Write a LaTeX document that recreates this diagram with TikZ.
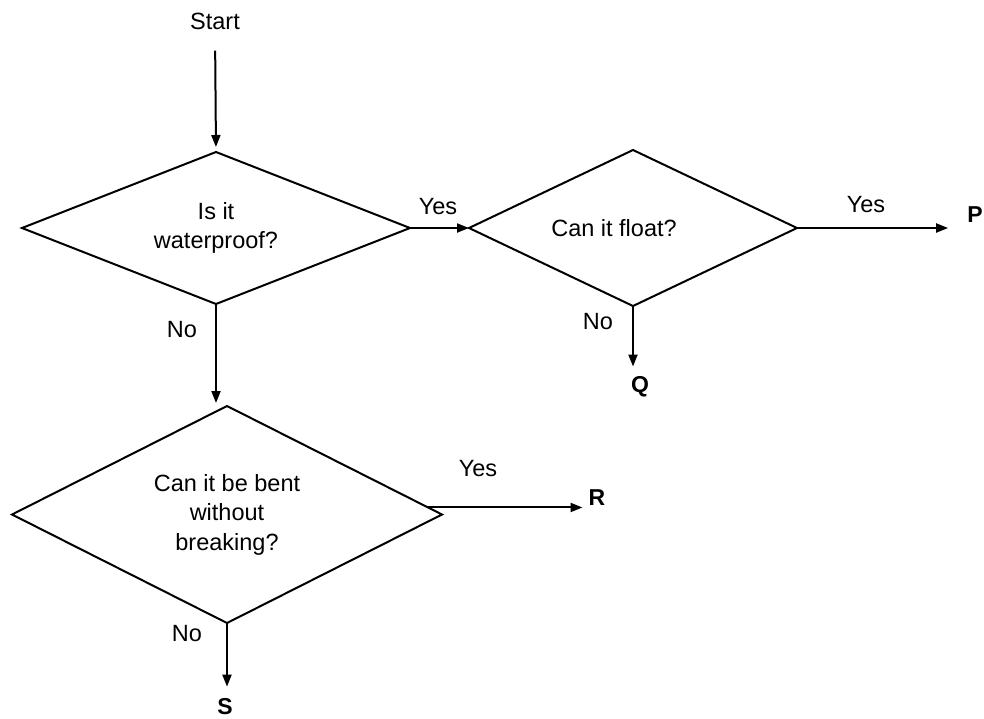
\documentclass[tikz,border=0pt]{standalone}
\usepackage{fontspec}
\setmainfont{Liberation Sans}
\usetikzlibrary{shapes.geometric,arrows.meta}
\begin{document}
\begin{tikzpicture}[x=1pt,y=-1pt,
  every node/.style={font=\fontsize{23.5}{29.5}\selectfont, inner sep=0pt},
  dia/.style={draw, shape=diamond, aspect=2, inner sep=0pt, outer sep=0pt, line width=2pt, align=center},
  arr/.style={line width=2pt, -{Triangle[length=12pt,width=9pt]}},
  lbl/.style={inner sep=0pt},
  outcome/.style={font=\fontsize{23}{28}\selectfont\bfseries}
]
\useasboundingbox (0,0) rectangle (984,718);

\node (start) at (215,21) {Start};
\node[dia, minimum width=388pt, minimum height=152pt] (d1) at (216,228) {Is it\\waterproof?};
\node[dia, minimum width=328pt, minimum height=156pt,
      label={[lbl,xshift=-19pt]center:Can it float?}] (d2) at (633,228) {};
\node[dia, minimum width=430pt, minimum height=217pt] (d3) at (227,514.5) {Can it be bent\\without\\breaking?};

\node[outcome] (P) at (975,215) {P};
\node[outcome] (Q) at (640,387) {Q};
\node[outcome] (R) at (597,498) {R};
\node[outcome] (S) at (225,707) {S};

\node[lbl] (yes1) at (438,207) {Yes};
\node[lbl] (yes2) at (866,205) {Yes};
\node[lbl] (no2) at (598,322) {No};
\node[lbl] (no1) at (182,330) {No};
\node[lbl] (yes3) at (478,469) {Yes};
\node[lbl] (no3) at (187,634) {No};

\draw[arr, shorten <=21pt, shorten >=5pt] (start.south) -- (d1.north);
\draw[arr] (d1.east) -- (d2.west);
\draw[arr, shorten >=19pt] (d2.east) -- (d2.east -| P.west);
\draw[arr, shorten >=10pt] (d2.south) -- (d2.south |- Q.north);
\draw[arr, shorten >=3pt] (d1.south) -- (d1.south |- d3.north);
\draw[arr, shorten >=6pt] (d3.2) -- (d3.2 -| R.west);
\draw[arr, shorten >=12pt] (d3.south) -- (d3.south |- S.north);
\end{tikzpicture}
\end{document}
